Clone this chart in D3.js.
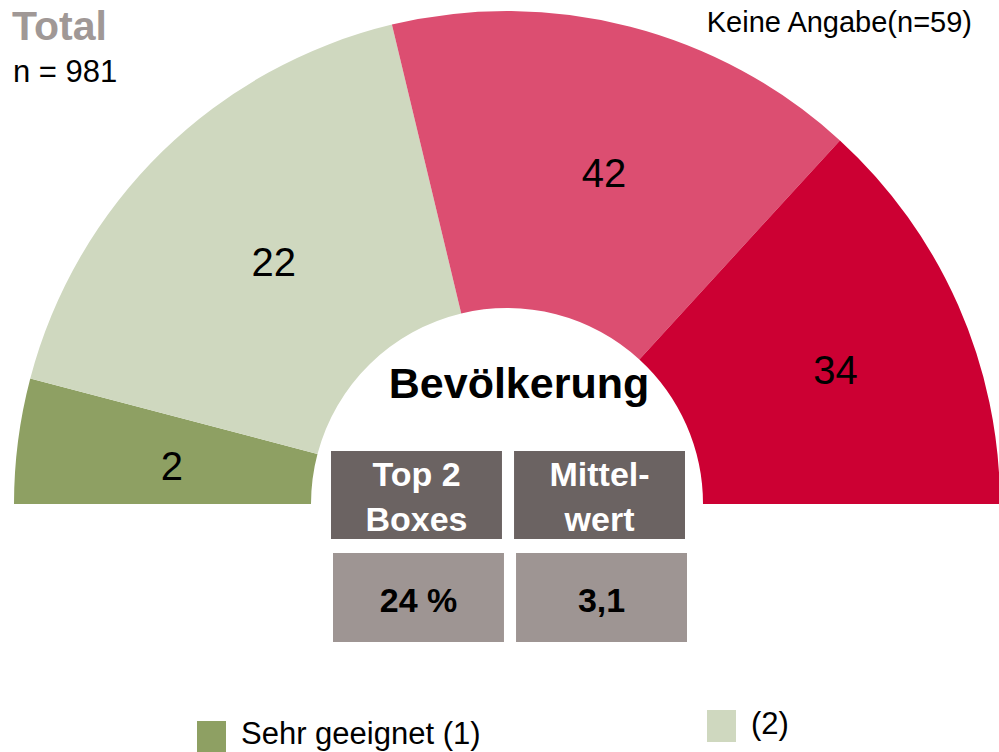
<!DOCTYPE html>
<html>
<head>
<meta charset="utf-8">
<script src="https://cdn.jsdelivr.net/npm/d3@7"></script>
<style>
body { margin: 0; background: #fff; }
svg { display: block; font-family: "Liberation Sans", Arial, sans-serif; }
</style>
</head>
<body>
<div id="chart"></div>
<script>
const categories = ["Sehr geeignet (1)", "(2)", "(3)", "(4)"];
const values = [2, 22, 42, 34];
// Winkelanteile der Segmente im Halbkreis, aus dem Bild geschätzt (in %)
const arcShares = [8.2, 34.3, 31.1, 26.4];
const colors = ["#8ea063", "#cfd8bf", "#dc4e71", "#cc0033"];
const legendItems = [0, 1];
const kpiHeads = [["Top 2", "Boxes"], ["Mittel-", "wert"]];
const kpiValues = ["24 %", "3,1"];

const width = 999;
const height = 752;
const cx = 507, cy = 504;
const outerR = 493, innerR = 196;

const svg = d3.select("#chart")
    .append("svg")
    .attr("width", width)
    .attr("height", height);

const slices = categories.map((c, i) => ({ name: c, value: values[i], share: arcShares[i], color: colors[i] }));

const pie = d3.pie()
    .sort(null)
    .startAngle(-Math.PI / 2)
    .endAngle(Math.PI / 2)
    .value(d => d.share);

const arc = d3.arc().innerRadius(innerR).outerRadius(outerR);
const labelArc = d3.arc().innerRadius(348).outerRadius(348);

const g = svg.append("g").attr("transform", `translate(${cx},${cy})`);

g.selectAll("path")
    .data(pie(slices))
    .enter().append("path")
    .attr("d", arc)
    .attr("fill", d => d.data.color);

// Beschriftungen sitzen etwas rechts/unterhalb vom Bogenmittelpunkt
const lg = svg.append("g").attr("transform", `translate(${cx + 10},${cy + 6})`);

lg.selectAll("text")
    .data(pie(slices))
    .enter().append("text")
    .attr("transform", d => `translate(${labelArc.centroid(d)})`)
    .attr("text-anchor", "middle")
    .attr("dy", "0.36em")
    .style("font-size", "40px")
    .attr("fill", "#000")
    .text(d => d.data.value);

// Kopfzeilen
svg.append("text")
    .attr("x", 12).attr("y", 40)
    .style("font-size", "41px")
    .style("font-weight", "bold")
    .attr("fill", "#a09896")
    .text("Total");

svg.append("text")
    .attr("x", 13).attr("y", 82)
    .style("font-size", "31px")
    .text("n = 981");

svg.append("text")
    .attr("x", 972).attr("y", 32)
    .attr("text-anchor", "end")
    .style("font-size", "29px")
    .text("Keine Angabe(n=59)");

svg.append("text")
    .attr("x", 519).attr("y", 398)
    .attr("text-anchor", "middle")
    .style("font-size", "43px")
    .style("font-weight", "bold")
    .text("Bevölkerung");

// Kennzahl-Boxen
const bx = d3.scaleBand().domain(d3.range(kpiHeads.length)).range([331, 685]).paddingInner(0.066);

const head = svg.append("g").selectAll("g")
    .data(kpiHeads)
    .enter().append("g");

head.append("rect")
    .attr("x", (d, i) => bx(i))
    .attr("y", 451)
    .attr("width", bx.bandwidth())
    .attr("height", 88)
    .attr("fill", "#6b6362");

head.selectAll("text")
    .data((d, i) => d.map((t, j) => ({ t, i, j })))
    .enter().append("text")
    .attr("x", d => bx(d.i) + bx.bandwidth() / 2)
    .attr("y", d => 486 + d.j * 45)
    .attr("text-anchor", "middle")
    .style("font-size", "34px")
    .style("font-weight", "bold")
    .attr("fill", "#fff")
    .text(d => d.t);

const val = svg.append("g").selectAll("g")
    .data(kpiValues)
    .enter().append("g");

val.append("rect")
    .attr("x", (d, i) => bx(i) + 2)
    .attr("y", 553)
    .attr("width", bx.bandwidth())
    .attr("height", 89)
    .attr("fill", "#9e9593");

val.append("text")
    .attr("x", (d, i) => bx(i) + 2 + bx.bandwidth() / 2)
    .attr("y", 612)
    .attr("text-anchor", "middle")
    .style("font-size", "34px")
    .style("font-weight", "bold")
    .attr("fill", "#000")
    .text(d => d);

// Legende (nur die ersten Einträge sind sichtbar)
const legendPos = [[197, 721, 744], [707, 710, 734]];
const legend = svg.append("g").selectAll("g")
    .data(legendItems)
    .enter().append("g");

legend.append("rect")
    .attr("x", (d, i) => legendPos[i][0])
    .attr("y", (d, i) => legendPos[i][1])
    .attr("width", 29)
    .attr("height", 32)
    .attr("fill", d => colors[d]);

legend.append("text")
    .attr("x", (d, i) => legendPos[i][0] + 44)
    .attr("y", (d, i) => legendPos[i][2])
    .style("font-size", "31px")
    .text(d => categories[d]);
</script>
</body>
</html>
